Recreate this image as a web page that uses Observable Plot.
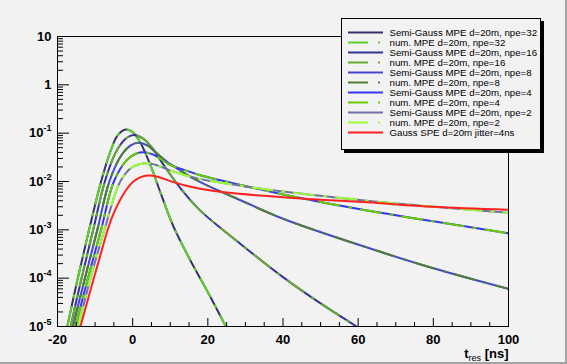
<!DOCTYPE html>
<html><head><meta charset="utf-8">
<script src="https://cdn.jsdelivr.net/npm/d3@7"></script>
<script src="https://cdn.jsdelivr.net/npm/@observablehq/plot@0.6"></script>
<style>
html,body{margin:0;padding:0;background:#f2f2f2;}
#canvas{position:relative;width:567px;height:364px;background:#f2f2f2;box-shadow:inset -2px -2px 0 #a3a3a3;overflow:hidden;font-family:"Liberation Sans",Arial,Helvetica,sans-serif;}
#chart{position:absolute;left:0;top:0;}
#legend{position:absolute;left:341px;top:18px;width:198px;height:130px;border:1px solid #000;background:#f2f2f2;box-shadow:3px 3px 0 #000;}
#legend svg,#chart svg{display:block;}
</style></head><body>
<div id="canvas"><div id="chart"></div><div id="legend"></div></div>
<script>
// ---- data: [t_res (ns), value] ----
const mpe32 = [[-17.4,1e-5],[-14.6,1e-4],[-11.6,1e-3],[-8.4,1e-2],[-6,0.04],[-4,0.09],[-1.8,0.119],[0,0.105],[2,0.065],[4.7,0.022],[7.5,0.0056],[10.9,0.00115],[15.4,2.3e-4],[19.8,5.5e-5],[24.8,1e-5]];
const mpe16 = [[-16.5,1e-5],[-13.6,1e-4],[-10.5,1e-3],[-7.4,1e-2],[-4.5,0.04],[-2,0.075],[0.3,0.092],[2.5,0.08],[4.7,0.055],[9,0.018],[13,0.0068],[18,0.0025],[28.7,5.1e-4],[40,1.05e-4],[50,3.0e-5],[59.6,1e-5]];
const mpe8  = [[-15.9,1e-5],[-12.7,1e-4],[-9.4,1e-3],[-6.2,1e-2],[-3,0.035],[-0.5,0.056],[1.6,0.063],[4,0.055],[7,0.035],[10,0.023],[14,0.0145],[18,0.0097],[28.7,0.0041],[40,0.0017],[62.4,4.3e-4],[80,1.6e-4],[100,6.0e-5]];
const mpe4  = [[-15.2,1e-5],[-11.9,1e-4],[-8.4,1e-3],[-5.0,1e-2],[-1.5,0.028],[1,0.038],[3,0.0404],[5.5,0.036],[10,0.022],[14,0.017],[18,0.0135],[28.7,0.0085],[40,0.0054],[62.4,0.0025],[80,0.0015],[100,0.00085]];
const mpe2  = [[-14.5,1e-5],[-11.2,1e-4],[-7.5,1e-3],[-3.3,1e-2],[0,0.02],[3.9,0.0239],[7,0.021],[10,0.017],[14,0.0135],[18,0.0112],[28.7,0.0082],[40,0.0062],[62.4,0.0040],[80,0.0030],[100,0.00225]];
const spe   = [[-13.9,1e-5],[-9,2.3e-4],[-5.5,1.8e-3],[-2,0.0062],[0.5,0.0105],[4,0.0133],[7,0.0123],[10,0.0102],[14,0.0083],[18,0.0071],[25,0.0059],[35.8,0.0050],[50,0.0042],[62.4,0.0037],[80,0.0030],[100,0.0026]];

const legendLabels = [
  "Semi-Gauss MPE d=20m, npe=32","num. MPE d=20m, npe=32",
  "Semi-Gauss MPE d=20m, npe=16","num. MPE d=20m, npe=16",
  "Semi-Gauss MPE d=20m, npe=8","num. MPE d=20m, npe=8",
  "Semi-Gauss MPE d=20m, npe=4","num. MPE d=20m, npe=4",
  "Semi-Gauss MPE d=20m, npe=2","num. MPE d=20m, npe=2",
  "Gauss SPE d=20m jitter=4ns"];
const legendColors = ["#333366","#5fd12a","#333399","#66aa33","#4646d0","#4f7f2f","#3535f0","#66cc00","#7070a8","#99ff33","#ff2020"];
const legendDashed = [false,true,false,true,false,true,false,true,false,true,false];
const seriesData = [mpe32,mpe32,mpe16,mpe16,mpe8,mpe8,mpe4,mpe4,mpe2,mpe2,spe];

const xMajor = [-20,0,20,40,60,80,100];
const xMinor = [-15,-10,-5,5,10,15,25,30,35,45,50,55,65,70,75,85,90,95];
const yMajor = [1e-5,1e-4,1e-3,1e-2,1e-1,1,10];
const yMinorMant = [2,3,4,5,6,7,8,9];
const yMinor = yMajor.slice(0,-1).flatMap(d => yMinorMant.map(m => m*d));

const W = 567, H = 364, mL = 57, mR = 59, mT = 36, mB = 38;
const fw = W - mL - mR, fh = H - mT - mB;
const DASH = "20 10 2 10";

const lineMarks = seriesData.map((data,i) => Plot.line(data, {
  x: d => d[0], y: d => d[1], stroke: legendColors[i], strokeWidth: 2,
  curve: "catmull-rom", clip: true,
  strokeDasharray: legendDashed[i] ? DASH : null
}));

const chart = Plot.plot({
  width: W, height: H, marginLeft: mL, marginRight: mR, marginTop: mT, marginBottom: mB,
  style: {background: "none", fontFamily: "'Liberation Sans', Arial, Helvetica, sans-serif", fontSize: "13px", fontWeight: "bold", color: "#000"},
  x: {domain: [-20, 100]},
  y: {type: "log", domain: [1e-5, 10]},
  marks: [
    ...lineMarks,
    Plot.tickY(yMinor, {y: d => d, stroke: "#000", insetRight: fw - 6}),
    Plot.tickY(yMajor, {y: d => d, stroke: "#000", insetRight: fw - 12}),
    Plot.tickX(xMinor, {x: d => d, stroke: "#000", insetTop: fh - 4}),
    Plot.tickX(xMajor, {x: d => d, stroke: "#000", insetTop: fh - 8}),
    Plot.frame({stroke: "#000", strokeWidth: 1}),
    Plot.axisX({ticks: xMajor, tickSize: 0, tickPadding: 8, label: null, tickFormat: d => String(d)}),
    Plot.axisY({ticks: yMajor, tickSize: 0, tickPadding: 6, label: null,
      tickFormat: d => { const e = Math.round(Math.log10(d)); return e === 1 ? "10" : e === 0 ? "1" : "10^" + e; }}),
    Plot.text(["t res [ns]"], {frameAnchor: "bottom-right", dy: 31, textAnchor: "end", lineAnchor: "bottom", ariaLabel: "xtitle"})
  ]
});
document.getElementById("chart").appendChild(chart);

const NS = "http://www.w3.org/2000/svg";
// superscripts on y tick labels
chart.querySelectorAll('g[aria-label="y-axis tick label"] text').forEach(t => {
  const s = t.textContent;
  if (s.includes("^")) {
    const [base, exp] = s.split("^");
    t.textContent = "";
    const b = document.createElementNS(NS, "tspan");
    b.textContent = base;
    const sp = document.createElementNS(NS, "tspan");
    sp.setAttribute("dy", "-6"); sp.setAttribute("font-size", "9");
    sp.textContent = exp;
    t.appendChild(b); t.appendChild(sp);
  }
});
// subscript on x title
chart.querySelectorAll('text').forEach(t => {
  if (t.textContent !== "t res [ns]") return;
  t.textContent = "";
  const mk = (txt, attrs) => { const e = document.createElementNS(NS, "tspan"); e.textContent = txt; for (const k in attrs) e.setAttribute(k, attrs[k]); t.appendChild(e); };
  mk("t", {});
  mk("res", {"font-size": "9", "font-weight": "normal", dy: "3"});
  mk(" [ns]", {dy: "-3"});
});

// legend
const rows = legendLabels.map((label, i) => ({label, color: legendColors[i], dashed: legendDashed[i]}));
const legend = Plot.plot({
  width: 198, height: 130, margin: 0,
  style: {background: "none", fontFamily: "'Liberation Sans', Arial, Helvetica, sans-serif"},
  x: {domain: [0, 1], axis: null},
  y: {type: "point", domain: legendLabels, range: [4.5, 121.5], axis: null},
  color: {type: "identity"},
  marks: [
    Plot.tickY(rows.filter(r => !r.dashed), {y: "label", stroke: "color", strokeWidth: 2, insetLeft: 6, insetRight: 157}),
    Plot.tickY(rows.filter(r => r.dashed), {y: "label", stroke: "color", strokeWidth: 2, insetLeft: 6, insetRight: 157, strokeDasharray: DASH}),
    Plot.text(rows, {y: "label", text: "label", frameAnchor: "left", dx: 47, textAnchor: "start", fontSize: 9.7, fill: "#000"})
  ]
});
document.getElementById("legend").appendChild(legend);
</script>
</body></html>
